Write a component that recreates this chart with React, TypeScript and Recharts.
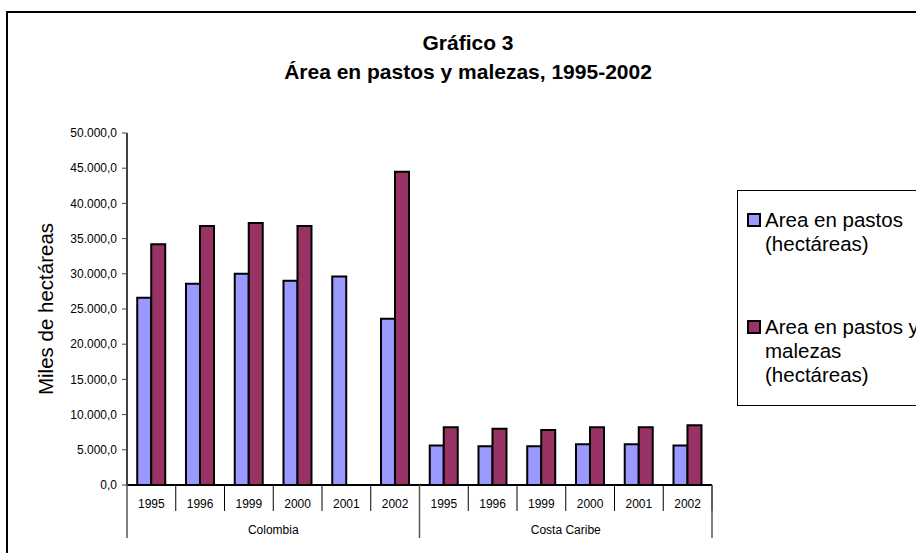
import { Bar, BarChart, XAxis, YAxis } from 'recharts';

const groups = ['Colombia', 'Costa Caribe'];
const years = ['1995', '1996', '1999', '2000', '2001', '2002'];

const pastosColombia = [26600, 28600, 30000, 29000, 29600, 23600];
const malezasColombia = [34200, 36800, 37200, 36800, null, 44500];
const pastosCaribe = [5600, 5500, 5500, 5800, 5800, 5600];
const malezasCaribe = [8200, 8000, 7800, 8200, 8200, 8500];

const yTicks = [0, 5000, 10000, 15000, 20000, 25000, 30000, 35000, 40000, 45000, 50000];

const SERIES = [
  { key: 'pastos', name: 'Area en pastos (hectáreas)', color: '#9999FF' },
  { key: 'malezas', name: 'Area en pastos y malezas (hectáreas)', color: '#993366' },
];

const data = [
  ...years.map((y, i) => ({ group: groups[0], year: y, pastos: pastosColombia[i], malezas: malezasColombia[i] })),
  ...years.map((y, i) => ({ group: groups[1], year: y, pastos: pastosCaribe[i], malezas: malezasCaribe[i] })),
];

const FONT = '"Liberation Sans", Arial, sans-serif';

// 50000 -> "50.000,0"
function fmt(v: number) {
  const [i, d] = v.toFixed(1).split('.');
  return i.replace(/\B(?=(\d{3})+(?!\d))/g, '.') + ',' + d;
}

function YearTick(props: any) {
  const { x, y, payload, width } = props;
  const off = payload?.offset ?? width / data.length / 2;
  return (
    <g>
      <text x={x} y={y + 23} textAnchor="middle" fontSize={12} fontFamily={FONT} fill="#000">
        {payload.value}
      </text>
      <line x1={x + off} x2={x + off} y1={y} y2={y + 26} stroke="#000" strokeWidth={1} />
    </g>
  );
}

function GroupTick(props: any) {
  const { x, y, payload, index, width } = props;
  const off = payload?.offset ?? width / groups.length / 2;
  return (
    <g>
      <text x={x} y={y + 23} textAnchor="middle" fontSize={12} fontFamily={FONT} fill="#000">
        {payload.value}
      </text>
      {index === 0 && <line x1={x - off} x2={x - off} y1={y - 26} y2={y + 27} stroke="#555" strokeWidth={1.5} />}
      <line x1={x + off} x2={x + off} y1={y - 26} y2={y + 27} stroke="#555" strokeWidth={1.5} />
    </g>
  );
}

export default function App() {
  return (
    <div style={{ position: 'relative', width: 916, height: 553, overflow: 'hidden', fontFamily: FONT, background: '#fff' }}>
      <style>{'body{margin:0}'}</style>
      {/* outer chart frame, runs off the right and bottom edges */}
      <div style={{ position: 'absolute', left: 6, top: 11, width: 1000, height: 1000, border: '2px solid #000' }} />

      <div style={{ position: 'absolute', left: 0, top: 28, width: 936, textAlign: 'center', fontSize: 21, fontWeight: 'bold', lineHeight: '29px' }}>
        Gráfico 3
        <br />
        Área en pastos y malezas, 1995-2002
      </div>

      <div style={{ position: 'absolute', left: 0, top: 0 }}>
        <BarChart width={916} height={553} data={data} margin={{ top: 133, right: 204, left: 50, bottom: 15 }} barCategoryGap="21%" barGap={0}>
          <XAxis dataKey="year" xAxisId={0} interval={0} tickSize={0} tickMargin={0} height={26} tickLine={false}
            axisLine={{ stroke: '#000', strokeWidth: 2 }} tick={<YearTick />} />
          <XAxis dataKey="group" xAxisId="group" allowDuplicatedCategory={false} interval={0} tickSize={0} tickMargin={0}
            height={27} tickLine={false} axisLine={false} tick={<GroupTick />} />
          <XAxis dataKey="year" xAxisId="top" orientation="top" height={0} tick={false} tickLine={false}
            axisLine={{ stroke: '#888', strokeWidth: 2 }} />
          <YAxis yAxisId={0} width={77} domain={[0, 50000]} ticks={yTicks} interval={0} tickFormatter={fmt}
            tickSize={5} tickMargin={5} axisLine={{ stroke: '#444', strokeWidth: 2 }} tickLine={{ stroke: '#444' }}
            tick={{ fontSize: 12, fill: '#000', fontFamily: FONT }} />
          <YAxis yAxisId="right" orientation="right" width={0} tick={false} tickLine={false}
            axisLine={{ stroke: '#888', strokeWidth: 2 }} />
          {SERIES.map((s) => (
            <Bar key={s.key} dataKey={s.key} name={s.name} xAxisId={0} yAxisId={0} fill={s.color}
              stroke="#000" strokeWidth={2} isAnimationActive={false} />
          ))}
        </BarChart>
      </div>

      <div style={{ position: 'absolute', left: 46, top: 308.5, transform: 'translate(-50%, -50%) rotate(-90deg)', fontSize: 20.5, whiteSpace: 'nowrap' }}>
        Miles de hectáreas
      </div>

      {/* legend */}
      <div style={{ position: 'absolute', left: 737, top: 190, width: 300, height: 214, border: '1px solid #000' }} />
      {SERIES.map((s, i) => (
        <div key={s.key} style={{ position: 'absolute', left: 747, top: i === 0 ? 208 : 315, display: 'flex', alignItems: 'flex-start', fontSize: 20.5, lineHeight: '24px' }}>
          <div style={{ width: 10, height: 10, marginTop: 5, marginRight: 4, background: s.color, border: '2px solid #000' }} />
          <div style={{ width: 170 }}>{s.name}</div>
        </div>
      ))}
    </div>
  );
}
